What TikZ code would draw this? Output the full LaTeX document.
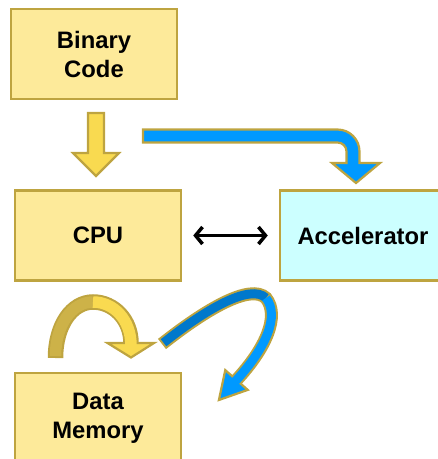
\documentclass[tikz,border=0pt]{standalone}
\usepackage{fontspec}
\setmainfont{Liberation Sans}
\usetikzlibrary{arrows.meta}
\definecolor{boxfill}{RGB}{253,234,154}
\definecolor{gold}{RGB}{190,164,64}
\definecolor{accfill}{RGB}{204,255,255}
\definecolor{yellowarrow}{RGB}{249,218,80}
\definecolor{yellowdark}{RGB}{205,178,72}
\definecolor{bluearrow}{RGB}{0,153,255}
\definecolor{bluedark}{RGB}{0,120,204}
\begin{document}
\begin{tikzpicture}[x=1pt,y=-1pt,
  block/.style={draw=gold, line width=2.5pt, fill=boxfill,
    minimum width=166pt, minimum height=90pt, inner sep=0pt,
    align=center, font=\fontsize{23.8}{29}\selectfont\bfseries},
  fatedge/.style={draw=gold, line width=2.2pt, line join=miter},
  twoway/.style={line width=3.5pt, >={Straight Barb[length=7pt,width=17pt]}, <->}]
\useasboundingbox (0,0) rectangle (438,459);

% boxes
\node[block] (bin) at (94,54) {Binary\\Code};
\node[block] (cpu) at (98,235.5) {CPU};
\node[block, fill=accfill] (acc) at (363,235.5) {Accelerator};
\node[block] (mem) at (98,418) {Data\\Memory};

% CPU <-> accelerator
\draw[twoway, shorten <=11pt, shorten >=11pt] (cpu.east) -- (acc.west);

% binary code down into the CPU
\draw[fatedge, fill=yellowarrow]
  (88,113) -- (104,113) -- (104,153) -- (119,153) -- (96,176)
  -- (73,153) -- (88,153) -- cycle;

% binary code over to the accelerator
\draw[fatedge, fill=bluearrow]
  (143,129.5) -- (337.5,129.5) arc[start angle=270, end angle=360, radius=22]
  -- (359.5,163) -- (380,163) -- (356,183) -- (332,163) -- (346.5,163)
  -- (346.5,151.5) arc[start angle=0, end angle=-90, radius=9]
  -- (143,142.5) -- cycle;

% CPU loop back onto data memory
\coordinate (yt) at (55.5,358);
\coordinate (ym) at (93,302);
\coordinate (yh) at (131,343);
\draw[gold, line width=15.5pt]
  (yt) .. controls (55.5,325) and (72,302) .. (ym)
       .. controls (114,302) and (131,320) .. (yh);
\draw[fatedge, fill=yellowarrow] (107.5,343) -- (131,357.5) -- (154,343) -- cycle;
\draw[yellowdark, line width=11.5pt, shorten <=2pt]
  (yt) .. controls (55.5,325) and (72,302) .. (ym);
\draw[yellowarrow, line width=11.5pt, shorten >=-2.5pt]
  (ym) .. controls (114,302) and (131,320) .. (yh);

% accelerator result down to data memory
\coordinate (bt) at (162,344);
\coordinate (bm) at (266,298);
\coordinate (bh) at (236.5,380);
\draw[gold, line width=13pt]
  (bt) .. controls (205,310) and (250,283) .. (bm)
       .. controls (280,316) and (266,348) .. (bh);
\draw[fatedge, fill=bluearrow] (247.75,389.9) -- (218.9,400) -- (225.25,370.1) -- cycle;
\draw[bluedark, line width=9pt, shorten <=2pt]
  (bt) .. controls (205,310) and (250,283) .. (bm);
\draw[bluearrow, line width=9pt, shorten >=-2.5pt]
  (bm) .. controls (280,316) and (266,348) .. (bh);
\end{tikzpicture}
\end{document}
